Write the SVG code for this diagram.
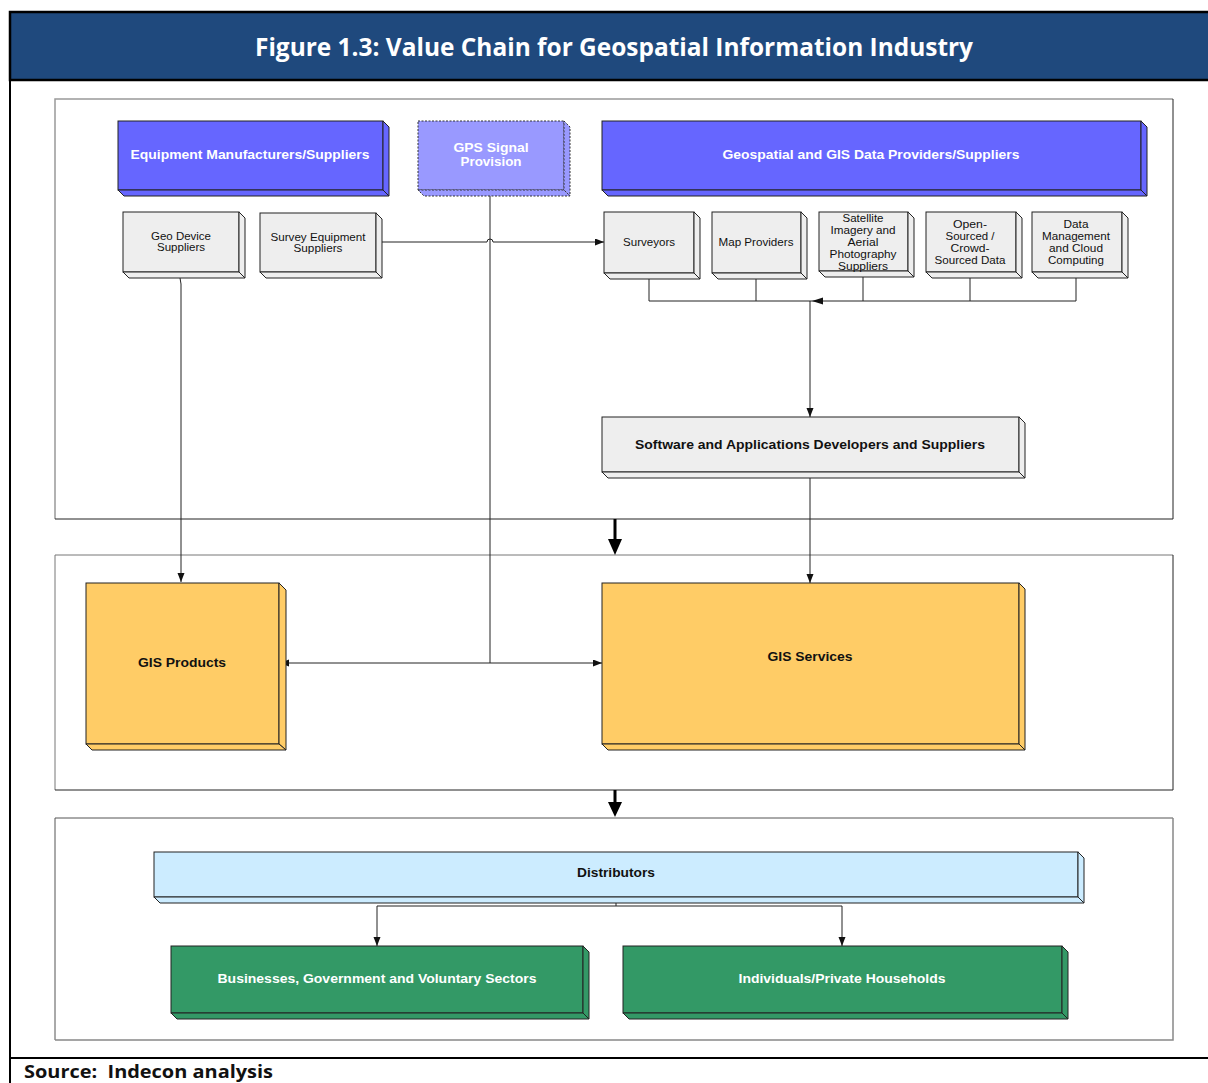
<svg xmlns="http://www.w3.org/2000/svg" width="1208" height="1083" viewBox="0 0 1208 1083">
<style>
.box{stroke:#222;stroke-width:1}
.blue{fill:#6666FF}
.gps{fill:#9999FF;stroke:#333;stroke-dasharray:2,1.5}
.grey{fill:#EEEEEE}
.gold{fill:#FFCC66}
.lblue{fill:#CCECFF}
.green{fill:#339966}
.t{font-family:"Liberation Sans",Arial,sans-serif;text-anchor:middle}
.w{fill:#fff;font-weight:bold;font-size:13px}
.b{fill:#111;font-weight:bold;font-size:13px}
.s{fill:#111;font-size:10.5px}
.con{fill:none;stroke:#222;stroke-width:1}
.panel{fill:#fff;stroke:none}
</style>
<defs>
<marker id="ah" markerUnits="userSpaceOnUse" markerWidth="10" markerHeight="8" refX="9" refY="3.5" orient="auto">
<path d="M0,0 L9,3.5 L0,7 z" fill="#111"/>
</marker>
</defs>
<rect width="1208" height="1083" fill="#fff"/>
<g id="frame">
<rect x="10" y="12" width="1200" height="68" fill="#1F497D" stroke="#000" stroke-width="2.5"/>
<line x1="10" y1="12" x2="10" y2="1083" stroke="#000" stroke-width="2"/>
<line x1="10" y1="1058" x2="1208" y2="1058" stroke="#000" stroke-width="2"/>
<text x="614" y="56" font-family="'Open Sans','Noto Sans',sans-serif" font-weight="bold" font-size="25" fill="#fff" text-anchor="middle" textLength="718" lengthAdjust="spacingAndGlyphs">Figure 1.3: Value Chain for Geospatial Information Industry</text>
<text x="24" y="1078" xml:space="preserve" font-family="'Open Sans','Noto Sans',sans-serif" font-weight="bold" font-size="18" fill="#111" textLength="249" lengthAdjust="spacingAndGlyphs">Source:  Indecon analysis</text>
</g>
<g id="panels">
<rect class="panel" x="55" y="99" width="1118" height="420"/>
<path d="M55,519 V99 H1173" fill="none" stroke="#999" stroke-width="1.5"/>
<path d="M1173,99 V519 H55" fill="none" stroke="#222" stroke-width="1"/>
<rect class="panel" x="55" y="555" width="1118" height="235"/>
<path d="M55,790 V555 H1173" fill="none" stroke="#777" stroke-width="1"/>
<path d="M1173,555 V790 H55" fill="none" stroke="#222" stroke-width="1"/>
<rect class="panel" x="55" y="818" width="1118" height="222"/>
<path d="M55,1040 V818 H1173" fill="none" stroke="#555" stroke-width="1"/>
<path d="M1173,818 V1040 H55" fill="none" stroke="#888" stroke-width="1.5"/>
</g>
<g id="connectors">
<path class="con" d="M376,242 H487 a3,3 0 0 1 6,0 H604" marker-end="url(#ah)"/>
<path class="con" d="M490,196 V663" stroke="#444"/>
<path class="con" d="M490,663 H602" marker-end="url(#ah)"/>
<path class="con" d="M490,663 H280" marker-end="url(#ah)"/>
<path class="con" d="M180,278 L181,284 V582" marker-end="url(#ah)"/>
<path class="con" d="M649,279 V301 H1076 V278 M756,279 V301 M863,277 V301 M970,278 V301"/>
<polygon points="812,301 823,297.5 823,304.5" fill="#111"/>
<path class="con" d="M810,301 V417" marker-end="url(#ah)"/>
<path class="con" d="M810,478 V583" marker-end="url(#ah)"/>
<path d="M615,519 V540" stroke="#000" stroke-width="3"/>
<polygon points="608,539 622,539 615,555" fill="#000"/>
<path d="M615,790 V803" stroke="#000" stroke-width="3"/>
<polygon points="608,802 622,802 615,817" fill="#000"/>
<path class="con" d="M616,897 V906 M377,906 H842"/>
<path class="con" d="M377,906 V946" marker-end="url(#ah)"/>
<path class="con" d="M842,906 V946" marker-end="url(#ah)"/>
</g>
<g id="equip">
<rect class="box blue" x="118" y="121" width="265" height="69"/>
<polygon class="box blue" points="383,121 389,127 389,196 383,190"/>
<polygon class="box blue" points="118,190 383,190 389,196 124,196"/>
<text class="t w" x="250" y="159" textLength="239" lengthAdjust="spacingAndGlyphs">Equipment Manufacturers/Suppliers</text>
</g>
<g id="gps">
<rect class="gps" x="418" y="121" width="146" height="69"/>
<polygon class="gps" points="564,121 570,127 570,196 564,190"/>
<polygon class="gps" points="418,190 564,190 570,196 424,196"/>
<text class="t w" x="491" y="152" textLength="75" lengthAdjust="spacingAndGlyphs">GPS Signal</text>
<text class="t w" x="491" y="166" textLength="61" lengthAdjust="spacingAndGlyphs">Provision</text>
</g>
<g id="geodata">
<rect class="box blue" x="602" y="121" width="539" height="69"/>
<polygon class="box blue" points="1141,121 1147,127 1147,196 1141,190"/>
<polygon class="box blue" points="602,190 1141,190 1147,196 608,196"/>
<text class="t w" x="871" y="159" textLength="297" lengthAdjust="spacingAndGlyphs">Geospatial and GIS Data Providers/Suppliers</text>
</g>
<g id="geodevice">
<rect class="box grey" x="123" y="212" width="116" height="60"/>
<polygon class="box grey" points="239,212 245,218 245,278 239,272"/>
<polygon class="box grey" points="123,272 239,272 245,278 129,278"/>
<text class="t s" x="181" y="240" textLength="60" lengthAdjust="spacingAndGlyphs">Geo Device</text>
<text class="t s" x="181" y="251" textLength="48" lengthAdjust="spacingAndGlyphs">Suppliers</text>
</g>
<g id="surveyequip">
<rect class="box grey" x="260" y="213" width="116" height="59"/>
<polygon class="box grey" points="376,213 382,219 382,278 376,272"/>
<polygon class="box grey" points="260,272 376,272 382,278 266,278"/>
<text class="t s" x="318" y="241" textLength="95" lengthAdjust="spacingAndGlyphs">Survey Equipment</text>
<text class="t s" x="318" y="252" textLength="49" lengthAdjust="spacingAndGlyphs">Suppliers</text>
</g>
<g id="surveyors">
<rect class="box grey" x="604" y="212" width="90" height="61"/>
<polygon class="box grey" points="694,212 700,218 700,279 694,273"/>
<polygon class="box grey" points="604,273 694,273 700,279 610,279"/>
<text class="t s" x="649" y="246" textLength="52" lengthAdjust="spacingAndGlyphs">Surveyors</text>
</g>
<g id="mapproviders">
<rect class="box grey" x="712" y="212" width="89" height="61"/>
<polygon class="box grey" points="801,212 807,218 807,279 801,273"/>
<polygon class="box grey" points="712,273 801,273 807,279 718,279"/>
<text class="t s" x="756" y="246" textLength="75" lengthAdjust="spacingAndGlyphs">Map Providers</text>
</g>
<g id="satellite">
<rect class="box grey" x="819" y="212" width="89" height="59"/>
<polygon class="box grey" points="908,212 914,218 914,277 908,271"/>
<polygon class="box grey" points="819,271 908,271 914,277 825,277"/>
<text class="t s" x="863" y="222" textLength="41" lengthAdjust="spacingAndGlyphs">Satellite</text>
<text class="t s" x="863" y="234" textLength="65" lengthAdjust="spacingAndGlyphs">Imagery and</text>
<text class="t s" x="863" y="246" textLength="31" lengthAdjust="spacingAndGlyphs">Aerial</text>
<text class="t s" x="863" y="258" textLength="67" lengthAdjust="spacingAndGlyphs">Photography</text>
<text class="t s" x="863" y="270" textLength="50" lengthAdjust="spacingAndGlyphs">Suppliers</text>
</g>
<g id="opensourced">
<rect class="box grey" x="926" y="212" width="90" height="60"/>
<polygon class="box grey" points="1016,212 1022,218 1022,278 1016,272"/>
<polygon class="box grey" points="926,272 1016,272 1022,278 932,278"/>
<text class="t s" x="970" y="228" textLength="34" lengthAdjust="spacingAndGlyphs">Open-</text>
<text class="t s" x="970" y="240" textLength="49" lengthAdjust="spacingAndGlyphs">Sourced /</text>
<text class="t s" x="970" y="252" textLength="39" lengthAdjust="spacingAndGlyphs">Crowd-</text>
<text class="t s" x="970" y="264" textLength="71" lengthAdjust="spacingAndGlyphs">Sourced Data</text>
</g>
<g id="datamgmt">
<rect class="box grey" x="1032" y="212" width="90" height="60"/>
<polygon class="box grey" points="1122,212 1128,218 1128,278 1122,272"/>
<polygon class="box grey" points="1032,272 1122,272 1128,278 1038,278"/>
<text class="t s" x="1076" y="228" textLength="25" lengthAdjust="spacingAndGlyphs">Data</text>
<text class="t s" x="1076" y="240" textLength="68" lengthAdjust="spacingAndGlyphs">Management</text>
<text class="t s" x="1076" y="252" textLength="54" lengthAdjust="spacingAndGlyphs">and Cloud</text>
<text class="t s" x="1076" y="264" textLength="56" lengthAdjust="spacingAndGlyphs">Computing</text>
</g>
<g id="software">
<rect class="box grey" x="602" y="417" width="417" height="55"/>
<polygon class="box grey" points="1019,417 1025,423 1025,478 1019,472"/>
<polygon class="box grey" points="602,472 1019,472 1025,478 608,478"/>
<text class="t b" x="810" y="449" textLength="350" lengthAdjust="spacingAndGlyphs">Software and Applications Developers and Suppliers</text>
</g>
<g id="gisproducts">
<rect class="box gold" x="86" y="583" width="193" height="161"/>
<polygon class="box gold" points="279,583 286,590 286,750 279,744"/>
<polygon class="box gold" points="86,744 279,744 286,750 92,750"/>
<text class="t b" x="182" y="667" textLength="88" lengthAdjust="spacingAndGlyphs">GIS Products</text>
</g>
<g id="gisservices">
<rect class="box gold" x="602" y="583" width="417" height="161"/>
<polygon class="box gold" points="1019,583 1025,589 1025,750 1019,744"/>
<polygon class="box gold" points="602,744 1019,744 1025,750 608,750"/>
<text class="t b" x="810" y="661" textLength="85" lengthAdjust="spacingAndGlyphs">GIS Services</text>
</g>
<g id="distributors">
<rect class="box lblue" x="154" y="852" width="924" height="45"/>
<polygon class="box lblue" points="1078,852 1084,858 1084,903 1078,897"/>
<polygon class="box lblue" points="154,897 1078,897 1084,903 160,903"/>
<text class="t b" x="616" y="877" textLength="78" lengthAdjust="spacingAndGlyphs">Distributors</text>
</g>
<g id="businesses">
<rect class="box green" x="171" y="946" width="412" height="67"/>
<polygon class="box green" points="583,946 589,952 589,1019 583,1013"/>
<polygon class="box green" points="171,1013 583,1013 589,1019 177,1019"/>
<text class="t w" x="377" y="983" textLength="319" lengthAdjust="spacingAndGlyphs">Businesses, Government and Voluntary Sectors</text>
</g>
<g id="individuals">
<rect class="box green" x="623" y="946" width="439" height="67"/>
<polygon class="box green" points="1062,946 1068,952 1068,1019 1062,1013"/>
<polygon class="box green" points="623,1013 1062,1013 1068,1019 629,1019"/>
<text class="t w" x="842" y="983" textLength="207" lengthAdjust="spacingAndGlyphs">Individuals/Private Households</text>
</g>
</svg>
